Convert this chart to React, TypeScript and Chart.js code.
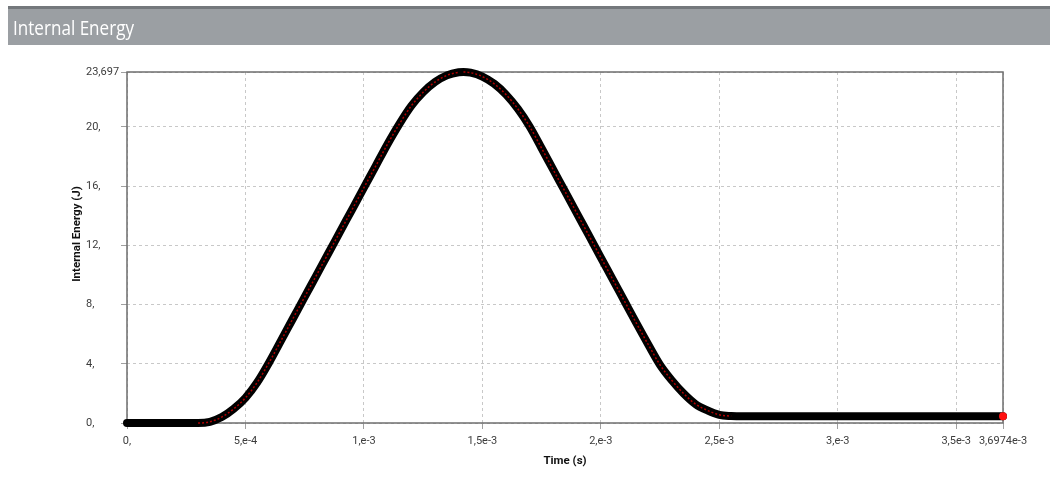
import React, { useEffect, useRef } from "react";
import { Chart, registerables } from "chart.js";

Chart.register(...registerables);

// Time in milliseconds (axis labels are in seconds)
const timeMs = [
  0, 0.1, 0.2, 0.3, 0.35, 0.4, 0.45, 0.5, 0.55, 0.6, 0.65, 0.7, 0.75, 0.8, 0.85, 0.9, 0.95, 1.0,
  1.05, 1.1, 1.15, 1.2, 1.25, 1.3, 1.35, 1.4, 1.42, 1.45, 1.5, 1.55, 1.6, 1.65, 1.7, 1.75, 1.8,
  1.85, 1.9, 1.95, 2.0, 2.05, 2.1, 2.15, 2.2, 2.25, 2.3, 2.35, 2.4, 2.45, 2.5, 2.55, 2.6, 2.8,
  3.0, 3.2, 3.4, 3.6, 3.6974,
];
const energyJ = [
  0, 0, 0, 0, 0.08, 0.4, 0.95, 1.7, 2.75, 4.09, 5.56, 7.04, 8.51, 9.99, 11.46, 12.94, 14.41,
  15.89, 17.36, 18.84, 20.2, 21.41, 22.33, 23.02, 23.47, 23.68, 23.697, 23.65, 23.39, 22.9,
  22.17, 21.2, 20.0, 18.55, 17.07, 15.6, 14.12, 12.65, 11.17, 9.7, 8.22, 6.74, 5.3, 3.92, 2.87,
  1.98, 1.27, 0.85, 0.55, 0.47, 0.45, 0.45, 0.45, 0.45, 0.45, 0.45, 0.45,
];

const xTickValues = [0, 0.5, 1, 1.5, 2, 2.5, 3, 3.5, 3.6974];
const xTickLabels = ["0,", "5,e-4", "1,e-3", "1,5e-3", "2,e-3", "2,5e-3", "3,e-3", "3,5e-3", "3,6974e-3"];
const yTickValues = [0, 4, 8, 12, 16, 20, 23.697];
const yTickLabels = ["0,", "4,", "8,", "12,", "16,", "20,", "23,697"];

const panelTitle = "Internal Energy";
const yAxisTitle = "Internal Energy (J)";
const xAxisTitle = "Time (s)";

const W = 1050;
const H = 477;

const decorPlugin = {
  id: "decor",
  beforeDraw(chart: any) {
    const ctx = chart.ctx;
    ctx.save();
    ctx.fillStyle = "#ffffff";
    ctx.fillRect(0, 0, W, H);
    ctx.fillStyle = "#74787c";
    ctx.fillRect(8, 6, W - 8, 3);
    ctx.fillStyle = "#9b9fa3";
    ctx.fillRect(8, 9, W - 8, 36);
    ctx.font = '20px "Open Sans"';
    const m = ctx.measureText(panelTitle).width;
    ctx.translate(13, 35);
    ctx.scale(121 / m, 1);
    ctx.fillStyle = "#ffffff";
    ctx.textBaseline = "alphabetic";
    ctx.textAlign = "left";
    ctx.fillText(panelTitle, 0, 0);
    ctx.restore();
  },
  beforeDatasetsDraw(chart: any) {
    const ctx = chart.ctx;
    const { left, top, right, bottom } = chart.chartArea;
    ctx.save();
    ctx.strokeStyle = "#6e6e6e";
    ctx.lineWidth = 1.5;
    ctx.strokeRect(left, top, right - left, bottom - top);
    ctx.restore();
  },
  afterDraw(chart: any) {
    const ctx = chart.ctx;
    ctx.save();
    ctx.fillStyle = "#111111";
    ctx.font = "bold 11.5px Roboto";
    ctx.textAlign = "center";
    ctx.textBaseline = "middle";
    ctx.fillText(xAxisTitle, 565, 461);
    ctx.translate(77, 234);
    ctx.rotate(-Math.PI / 2);
    ctx.fillText(yAxisTitle, 0, 0);
    ctx.restore();
  },
};

export default function App() {
  const canvasRef = useRef<HTMLCanvasElement | null>(null);

  useEffect(() => {
    if (!canvasRef.current) return;
    const points = timeMs.map((t, i) => ({ x: t, y: energyJ[i] }));
    const last = points.length - 1;
    const chart = new Chart(canvasRef.current, {
      type: "line",
      data: {
        datasets: [
          {
            label: "markers",
            data: points,
            order: 1,
            borderColor: "#b00000",
            borderWidth: 1.5,
            borderDash: [2, 2],
            cubicInterpolationMode: "monotone",
            segment: {
              borderColor: (c: any) =>
                Math.abs(c.p1.parsed.y - c.p0.parsed.y) > 0.03 ? "#b00000" : "rgba(0,0,0,0)",
            },
            pointRadius: (c: any) => (c.dataIndex === last ? 4 : 0),
            pointBackgroundColor: "#ff1010",
            pointBorderWidth: 0,
            clip: false,
          } as any,
          {
            label: "Internal Energy",
            data: points,
            order: 2,
            borderColor: "#000000",
            borderWidth: 8,
            borderCapStyle: "round",
            borderJoinStyle: "round",
            cubicInterpolationMode: "monotone",
            pointRadius: 0,
            clip: false,
          } as any,
        ],
      },
      options: {
        animation: false,
        responsive: false,
        maintainAspectRatio: false,
        layout: { padding: { left: 86, top: 72, right: 47, bottom: 0 } },
        plugins: {
          legend: { display: false },
          tooltip: { enabled: false },
        },
        scales: {
          x: {
            type: "linear",
            min: 0,
            max: 3.6974,
            afterFit: (s: any) => {
              s.height = 54;
            },
            afterBuildTicks: (s: any) => {
              s.ticks = xTickValues.map((v) => ({ value: v }));
            },
            ticks: {
              autoSkip: false,
              maxRotation: 0,
              padding: 6,
              color: "#3c3c3c",
              font: { family: "Roboto", size: 11 },
              callback: (_v: any, i: number) => xTickLabels[i],
            },
            grid: {
              color: "#c8c8c8",
              tickColor: "#a0a0a0",
              tickLength: 6,
              tickBorderDash: [],
            },
            border: { display: false, dash: [3, 3] },
          },
          y: {
            type: "linear",
            min: 0,
            max: 23.697,
            afterFit: (s: any) => {
              s.width = 41;
            },
            afterBuildTicks: (s: any) => {
              s.ticks = yTickValues.map((v) => ({ value: v }));
            },
            ticks: {
              autoSkip: false,
              crossAlign: "far",
              color: "#3c3c3c",
              font: { family: "Roboto", size: 11 },
              callback: (_v: any, i: number) => yTickLabels[i],
            },
            grid: {
              color: "#c8c8c8",
              tickColor: "#a0a0a0",
              tickLength: 6,
              tickBorderDash: [],
            },
            border: { display: false, dash: [3, 3] },
          },
        },
      } as any,
      plugins: [decorPlugin],
    });
    return () => chart.destroy();
  }, []);

  return (
    <div style={{ position: "absolute", left: 0, top: 0, width: W, height: H }}>
      <canvas ref={canvasRef} width={W} height={H} style={{ display: "block", width: W, height: H }} />
    </div>
  );
}
